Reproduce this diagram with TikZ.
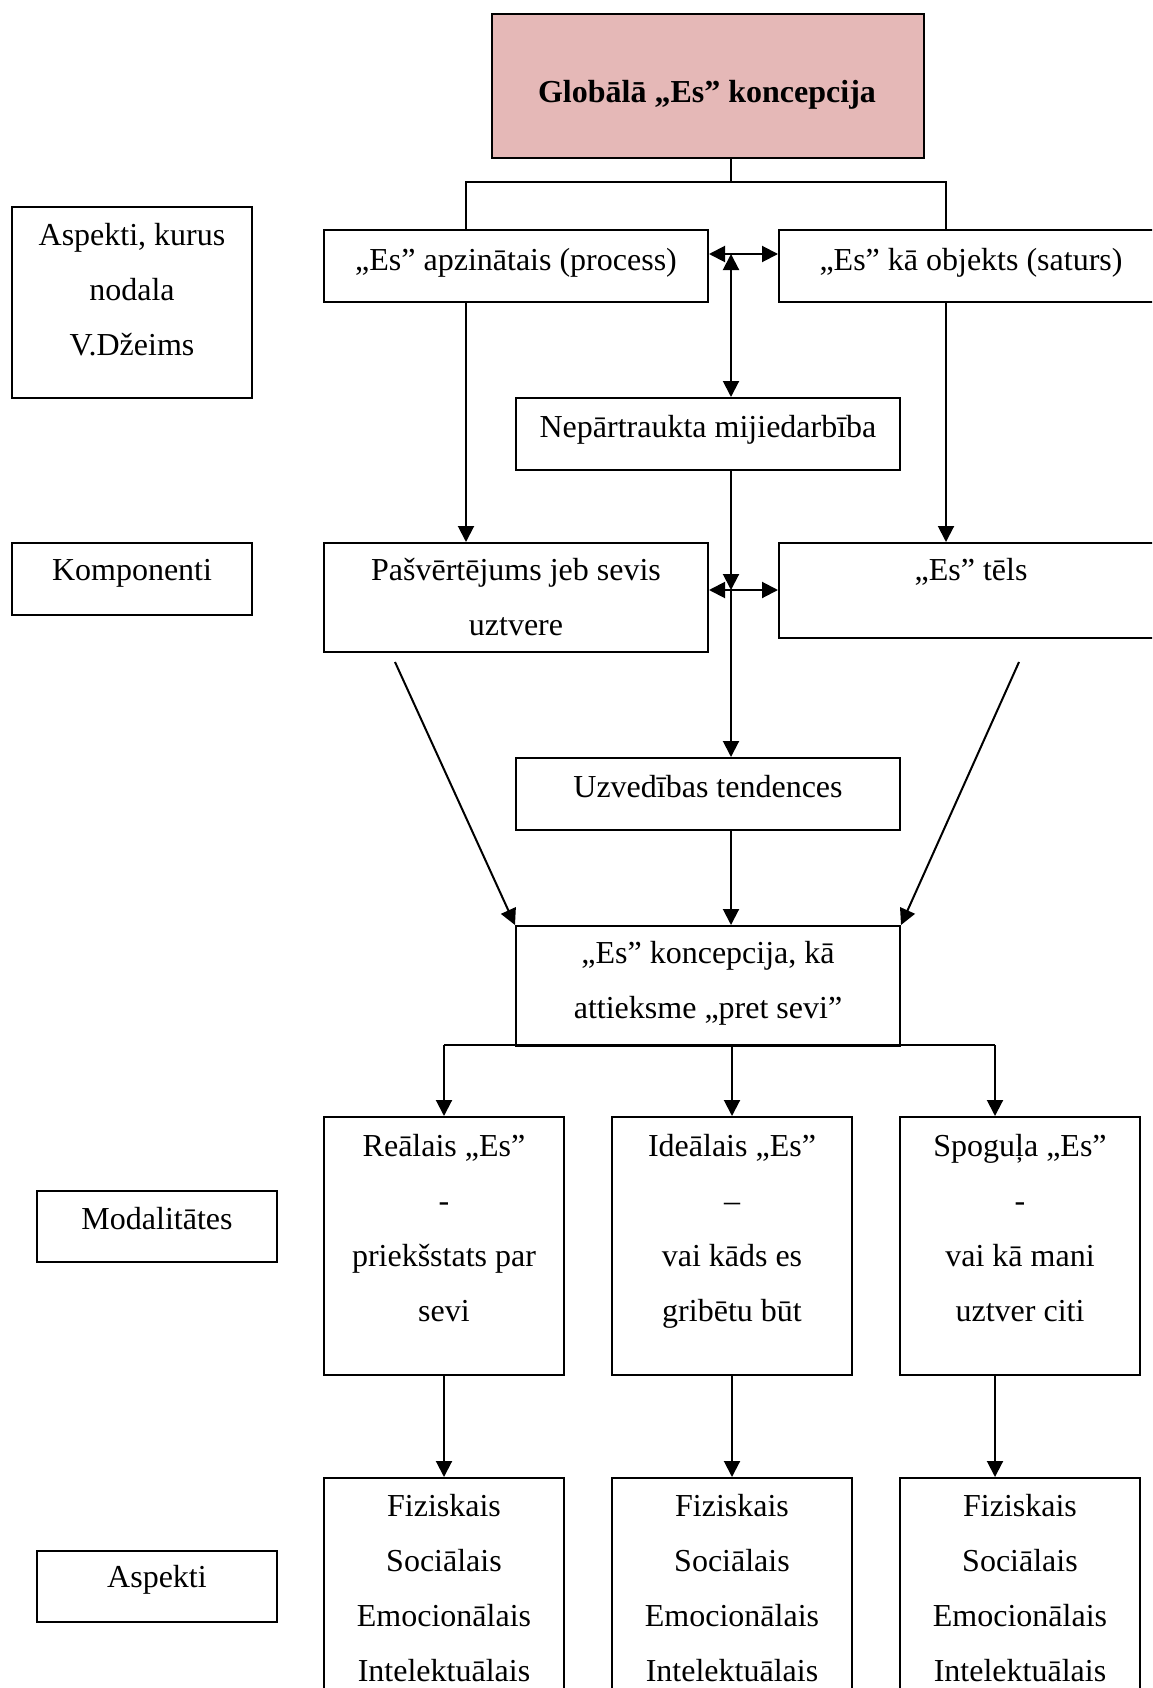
\documentclass[tikz,border=0pt]{standalone}
\usepackage{fontspec}
\setmainfont{Liberation Serif}
\usetikzlibrary{arrows.meta,calc}
\definecolor{pinkfill}{HTML}{E5B8B7}
\begin{document}
\begin{tikzpicture}[x=1pt,y=-1pt,
  box/.style={draw, line width=2pt, inner sep=0pt, anchor=north west, rectangle},
  txt/.style={anchor=north, inner sep=0pt, align=center, font=\fontsize{32}{55}\selectfont},
  conn/.style={line width=2pt},
  tipp/.tip={Triangle[length=16pt,width=16pt]},
  arr/.style={line width=2pt, -tipp},
  darr/.style={line width=2pt, tipp-tipp}]
\clip (0,0) rectangle (1152,1688);
% boxes
\node[box, fill=pinkfill, minimum width=432, minimum height=144] (top) at (491,13) {};
\node[box, minimum width=240, minimum height=191] (lab1) at (11,206) {};
\node[box, minimum width=384, minimum height=72] (a1) at (323,229) {};
\node[box, minimum width=384, minimum height=72] (a2) at (778,229) {};
\node[box, minimum width=384, minimum height=72] (nep) at (515,397) {};
\node[box, minimum width=240, minimum height=72] (lab2) at (11,542) {};
\node[box, minimum width=384, minimum height=109] (pas) at (323,542) {};
\node[box, minimum width=384, minimum height=95] (tel) at (778,542) {};
\node[box, minimum width=384, minimum height=72] (uzv) at (515,757) {};
\node[box, minimum width=384, minimum height=120] (kon) at (515,925) {};
\node[box, minimum width=240, minimum height=258] (m1) at (323,1116) {};
\node[box, minimum width=240, minimum height=258] (m2) at (611,1116) {};
\node[box, minimum width=240, minimum height=258] (m3) at (899,1116) {};
\node[box, minimum width=240, minimum height=71] (lab3) at (36,1190) {};
\node[box, minimum width=240, minimum height=260] (as1) at (323,1477) {};
\node[box, minimum width=240, minimum height=260] (as2) at (611,1477) {};
\node[box, minimum width=240, minimum height=260] (as3) at (899,1477) {};
\node[box, minimum width=240, minimum height=71] (lab4) at (36,1550) {};
% texts
\node[anchor=base, inner sep=0pt, font=\fontsize{32}{55}\selectfont\bfseries] (ttop) at (707,103) {Globālā „Es” koncepcija};
\node[txt] (tlab1) at (lab1.north) {\rule{0pt}{39pt}Aspekti, kurus\\nodala\\V.Džeims};
\node[txt] (ta1) at (a1.north) {\rule{0pt}{41pt}„Es” apzinātais (process)};
\node[txt] (ta2) at (a2.north) {\rule{0pt}{41pt}„Es” kā objekts (saturs)};
\node[txt] (tnep) at (nep.north) {\rule{0pt}{40pt}Nepārtraukta mijiedarbība};
\node[txt] (tlab2) at (lab2.north) {\rule{0pt}{38pt}Komponenti};
\node[txt] (tpas) at (pas.north) {\rule{0pt}{38pt}Pašvērtējums jeb sevis\\uztvere};
\node[txt] (ttel) at (tel.north) {\rule{0pt}{38pt}„Es” tēls};
\node[txt] (tuzv) at (uzv.north) {\rule{0pt}{40pt}Uzvedības tendences};
\node[txt] (tkon) at (kon.north) {\rule{0pt}{38pt}„Es” koncepcija, kā\\attieksme „pret sevi”};
\node[txt] (tm1) at (m1.north) {\rule{0pt}{40pt}Reālais „Es”\\-\\priekšstats par\\sevi};
\node[txt] (tm2) at (m2.north) {\rule{0pt}{40pt}Ideālais „Es”\\–\\vai kāds es\\gribētu būt};
\node[txt] (tm3) at (m3.north) {\rule{0pt}{40pt}Spoguļa „Es”\\-\\vai kā mani\\uztver citi};
\node[txt] (tlab3) at (lab3.north) {\rule{0pt}{39pt}Modalitātes};
\node[txt] (tas1) at (as1.north) {\rule{0pt}{39pt}Fiziskais\\Sociālais\\Emocionālais\\Intelektuālais};
\node[txt] (tas2) at (as2.north) {\rule{0pt}{39pt}Fiziskais\\Sociālais\\Emocionālais\\Intelektuālais};
\node[txt] (tas3) at (as3.north) {\rule{0pt}{39pt}Fiziskais\\Sociālais\\Emocionālais\\Intelektuālais};
\node[txt] (tlab4) at (lab4.north) {\rule{0pt}{37pt}Aspekti};
% coordinates
\coordinate (mx) at (731,182);
\coordinate (lx) at (466,182);
\coordinate (rx) at (946,182);
\coordinate (h1) at (731,254);
\coordinate (h2) at (731,590);
\coordinate (d1) at (395,662);
\coordinate (d2) at (1019,662);
\coordinate (b3) at (995,1045);
% connectors
\draw[conn] (top.south -| mx) -- (mx);
\draw[conn] (a1.north -| lx) -- (lx) -- (rx) -- (a2.north -| rx);
\draw[darr] (a1.east |- h1) -- (a2.west |- h1);
\draw[darr] (h1) -- (nep.north -| h1);
\draw[arr] (a1.south -| lx) -- (pas.north -| lx);
\draw[arr] (a2.south -| rx) -- (tel.north -| rx);
\draw[darr] (pas.east |- h2) -- (tel.west |- h2);
\draw[arr] (nep.south -| h2) -- (h2);
\draw[arr] (h2) -- (uzv.north -| h2);
\draw[arr] (uzv.south -| h2) -- (kon.north -| h2);
\draw[arr] (d1) -- (kon.north west);
\draw[arr] (d2) -- (kon.north east);
\draw[conn] (m1.north |- b3) -- (b3);
\draw[arr] (m1.north |- b3) -- (m1.north);
\draw[arr] (m2.north |- b3) -- (m2.north);
\draw[arr] (b3) -- (m3.north -| b3);
\draw[arr] (m1.south) -- (as1.north);
\draw[arr] (m2.south) -- (as2.north);
\draw[arr] (m3.south -| b3) -- (as3.north -| b3);
\end{tikzpicture}
\end{document}
